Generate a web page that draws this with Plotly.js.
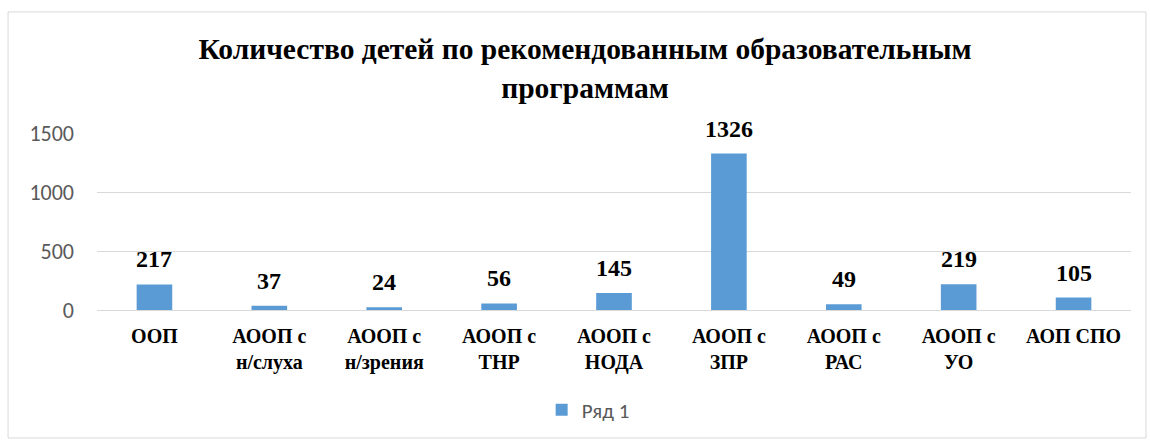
<!DOCTYPE html>
<html><head><meta charset="utf-8">
<script src="https://cdn.plot.ly/plotly-3.0.1.min.js"></script>
<style>html,body{margin:0;padding:0;background:#fff}#c{width:1150px;height:443px}</style>
</head><body><div id="c"></div>
<script>
const categories = ["ООП", "АООП с<br>н/слуха", "АООП с<br>н/зрения", "АООП с<br>ТНР", "АООП с<br>НОДА", "АООП с<br>ЗПР", "АООП с<br>РАС", "АООП с<br>УО", "АОП СПО"];
const values = [217, 37, 24, 56, 145, 1326, 49, 219, 105];
const seriesName = "Ряд 1";
const yTicks = [0, 500, 1000, 1500];
const titleText = "Количество детей по рекомендованным образовательным<br>программам";

const SERIF = '"Liberation Serif", "Times New Roman", serif';
const SANS = 'Carlito, Calibri, "Liberation Sans", sans-serif';

const trace = {
  type: 'bar', x: categories, y: values, name: seriesName,
  marker: {color: '#5B9BD5'},
  hoverinfo: 'none', showlegend: true
};
const labelAnns = categories.map((c, i) => ({
  x: c, y: values[i], xref: 'x', yref: 'y', text: String(values[i]),
  showarrow: false, yanchor: 'bottom', yshift: 10,
  font: {family: SERIF, size: 24, color: '#000', weight: 'bold'}
}));
const layout = {
  width: 1150, height: 443,
  margin: {l: 97, r: 19, t: 133, b: 133},
  paper_bgcolor: '#fff', plot_bgcolor: '#fff',
  title: {text: titleText, font: {family: SERIF, size: 29.5, color: '#000', weight: 'bold'},
    x: 0.5087, xref: 'container', xanchor: 'center', y: 0.866, yref: 'container', yanchor: 'top'},
  bargap: 0.69,
  xaxis: {tickfont: {family: SERIF, size: 20, color: '#000', weight: 'bold'},
    showline: true, linecolor: '#d9d9d9', ticks: '', ticklabelstandoff: 8, fixedrange: true},
  yaxis: {range: [0, 1500], tickvals: yTicks, showgrid: true, gridcolor: '#d9d9d9', gridwidth: 1,
    zeroline: false, tickfont: {family: SANS, size: 22, color: '#595959'}, ticks: '', ticklabelstandoff: 22, fixedrange: true},
  showlegend: true,
  legend: {orientation: 'h', x: 0.475, xanchor: 'center', y: -0.565, yanchor: 'middle',
    font: {family: SANS, size: 21, color: '#595959'}},
  annotations: labelAnns,
  shapes: [{type: 'rect', xref: 'paper', yref: 'paper', x0: -0.086, x1: 1.0145, y0: -0.723, y1: 1.684,
    line: {color: '#d9d9d9', width: 1}, layer: 'below'}]
};
Plotly.newPlot('c', [trace], layout, {displayModeBar: false, staticPlot: true});
</script></body></html>
